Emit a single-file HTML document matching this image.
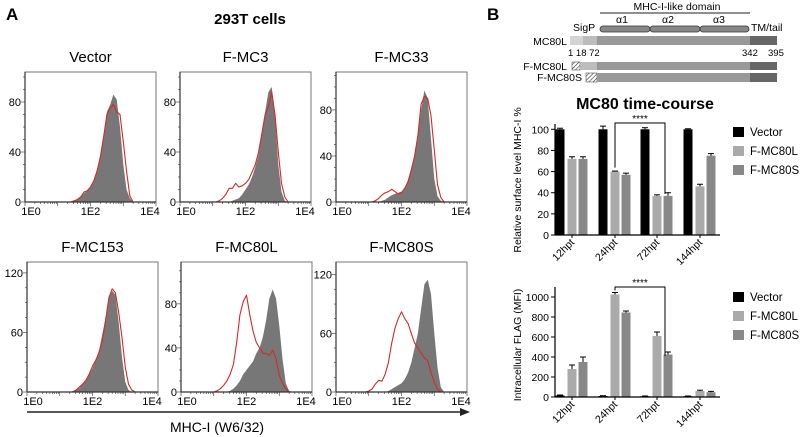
<!DOCTYPE html>
<html><head><meta charset="utf-8"><style>
html,body{margin:0;padding:0;background:#fff;}
svg{display:block;font-family:"Liberation Sans",Arial,sans-serif;}
</style></head><body>
<svg id="fig" width="800" height="437" viewBox="0 0 800 437" xmlns="http://www.w3.org/2000/svg">
<text x="6" y="20" font-size="17" font-weight="bold">A</text>
<text x="250" y="24" font-size="15" font-weight="bold" text-anchor="middle">293T cells</text>
<line x1="27" y1="412" x2="462" y2="412" stroke="#222" stroke-width="1.5"/>
<polygon points="470,412 460,408 460,416" fill="#222"/>
<text x="217" y="432" font-size="14" text-anchor="middle">MHC-I (W6/32)</text>
<text x="487" y="20" font-size="17" font-weight="bold">B</text>
<g id="diagram">
<text x="677" y="10" font-size="10.5" text-anchor="middle">MHC-I-like domain</text>
<line x1="600" y1="13" x2="750" y2="13" stroke="#222" stroke-width="1"/>
<text x="622" y="23" font-size="10.5" text-anchor="middle">α1</text>
<text x="668" y="23" font-size="10.5" text-anchor="middle">α2</text>
<text x="719" y="23" font-size="10.5" text-anchor="middle">α3</text>
<rect x="600" y="26" width="50" height="6" rx="3" fill="#888" stroke="#333" stroke-width="0.8"/>
<rect x="650" y="26" width="50" height="6" rx="3" fill="#888" stroke="#333" stroke-width="0.8"/>
<rect x="700" y="26" width="49" height="6" rx="3" fill="#888" stroke="#333" stroke-width="0.8"/>
<text x="573" y="31" font-size="10.5">SigP</text>
<text x="751" y="31" font-size="10.5">TM/tail</text>
<defs><pattern id="hatch" width="3" height="3" patternUnits="userSpaceOnUse" patternTransform="rotate(45)"><rect width="3" height="3" fill="#fff"/><line x1="0" y1="0" x2="0" y2="3" stroke="#333" stroke-width="1.2"/></pattern></defs>
<text x="567" y="45" font-size="10.5" text-anchor="end">MC80L</text>
<rect x="570" y="36" width="13" height="9" fill="#d4d4d4"/>
<rect x="583" y="36" width="14" height="9" fill="#bcbcbc"/>
<rect x="597" y="36" width="153" height="9" fill="#999"/>
<rect x="750" y="36" width="27" height="9" fill="#666"/>
<text x="568" y="56" font-size="9.5">1  18  72</text>
<text x="742" y="56" font-size="9.5">342</text>
<text x="768" y="56" font-size="9.5">395</text>
<text x="567" y="70" font-size="10.5" text-anchor="end">F-MC80L</text>
<rect x="572" y="62" width="8" height="8" fill="url(#hatch)" stroke="#333" stroke-width="0.5"/>
<rect x="580" y="62" width="17" height="8" fill="#bcbcbc"/>
<rect x="597" y="62" width="153" height="8" fill="#999"/>
<rect x="750" y="62" width="27" height="8" fill="#666"/>
<text x="582" y="81" font-size="10.5" text-anchor="end">F-MC80S</text>
<rect x="586" y="73" width="11" height="9" fill="url(#hatch)" stroke="#333" stroke-width="0.5"/>
<rect x="597" y="73" width="153" height="9" fill="#999"/>
<rect x="750" y="73" width="27" height="9" fill="#666"/>
</g>
<text x="645" y="109" font-size="16" font-weight="bold" text-anchor="middle">MC80 time-course</text>
</svg>
<script>
// ---- Histogram data: counts at log10 bins starting 0.8, step 0.1 (31 bins) ----
const histBins = [0.8,0.9,1.0,1.1,1.2,1.3,1.4,1.5,1.6,1.7,1.8,1.9,2.0,2.1,2.2,2.3,2.4,2.5,2.6,2.7,2.8,2.9,3.0,3.1,3.2,3.3,3.4,3.5,3.6,3.7,3.8];
const panelTitles = ["Vector","F-MC3","F-MC33","F-MC153","F-MC80L","F-MC80S"];
const vectorGray = [0,0,0,0,0,0,0,1,2,4,7,9,12,17,24,35,52,72,78,86,82,60,30,10,3,0,0,0,0,0,0];
const vectorRed  = [0,0,0,0,0,0,0,1,2,4,8,9,12,17,25,36,52,70,75,78,72,70,48,25,5,0,0,0,0,0,0];
const mc3Gray  = [0,0,0,0,0,0,0,0,1,2,3,6,10,14,20,28,38,55,72,88,92,70,30,8,1,0,0,0,0,0,0];
const mc3Red   = [0,0,0,0,1,3,6,11,11,15,12,13,15,18,24,30,40,55,70,76,88,70,40,15,4,0,0,0,0,0,0];
const mc33Gray = [0,0,0,0,0,0,1,2,4,6,7,8,9,12,18,28,40,58,80,97,90,55,20,5,1,0,0,0,0,0,0];
const mc33Red  = [0,0,0,0,1,3,6,8,9,11,9,7,8,12,18,28,40,58,85,92,90,75,45,15,4,0,0,0,0,0,0];
const mc153Gray= [0,0,0,0,0,0,1,2,4,8,12,18,24,32,42,58,75,95,102,98,70,35,10,2,0,0,0,0,0,0,0];
const mc153Red = [0,0,0,0,0,0,0,2,5,8,12,18,26,32,40,52,72,95,104,100,80,55,25,8,2,0,0,0,0,0,0];
const mc80lGray= [0,0,0,0,0,0,0,1,3,6,10,16,20,24,28,35,40,50,65,85,93,85,60,30,8,1,0,0,0,0,0];
const mc80lRed = [0,0,0,1,3,6,10,16,25,45,70,82,88,70,55,45,40,35,35,33,38,30,15,8,3,0,0,0,0,0,0];
const mc80sGray= [0,0,0,0,0,0,0,0,1,3,5,7,9,13,20,30,45,60,85,110,115,100,60,25,5,0,0,0,0,0,0];
const mc80sRed = [0,0,1,3,8,12,11,18,30,50,65,75,82,75,70,60,50,45,40,35,32,20,10,3,0,0,0,0,0,0,0];
const grayHists = [vectorGray,mc3Gray,mc33Gray,mc153Gray,mc80lGray,mc80sGray];
const redHists  = [vectorRed,mc3Red,mc33Red,mc153Red,mc80lRed,mc80sRed];
const panelYMax = [104,104,113,131,118,133];
const panelYTicks = [[0,40,80],[0,40,80],[0,40,80],[0,60,120],[0,40,80],[0,60,120]];
const xTickLabels = ["1E0","1E2","1E4"];
const xTickLogs = [0,2,4];

// ---- Bar chart data ----
const timepoints = ["12hpt","24hpt","72hpt","144hpt"];
const seriesNames = ["Vector","F-MC80L","F-MC80S"];
const surfaceVector = [100,100,100,100];
const surfaceL = [72,60,37,46];
const surfaceS = [72,57,37,75];
const surfaceErrV = [1,3,1.5,0.5];
const surfaceErrL = [2,0.5,1,2];
const surfaceErrS = [2,1.5,3,2];
const surfaceTicks = [0,20,40,60,80,100];
const flagVector = [15,10,8,8];
const flagL = [280,1025,610,60];
const flagS = [350,845,425,48];
const flagErrV = [5,3,2,2];
const flagErrL = [40,20,40,8];
const flagErrS = [50,15,25,8];
const flagTicks = [0,200,400,600,800,1000];

const NS="http://www.w3.org/2000/svg";
const svg=document.getElementById('fig');
function mk(tag,attrs,parent){const e=document.createElementNS(NS,tag);for(const k in attrs)e.setAttribute(k,attrs[k]);(parent||svg).appendChild(e);return e;}
function txt(x,y,s,size,anchor,parent){const t=mk('text',{x:x,y:y,'font-size':size,'text-anchor':anchor||'start'},parent);t.textContent=s;return t;}

const boxes=[[25,72],[180,72],[336,72],[27,262],[181,262],[336,262]];
const BW=131,BH=130;
for(let p=0;p<6;p++){
  const [x0,y0]=boxes[p];
  const g=mk('g',{});
  
  
  const xs=v=>x0+v/4*BW;
  const ys=v=>y0+BH-v/panelYMax[p]*BH;
  const tt=txt(x0+BW/2,y0-10,panelTitles[p],15,'middle',g);
  
  
  mk('rect',{x:x0,y:y0,width:BW,height:BH,fill:'none',stroke:'#777','stroke-width':1},g);
  let d='M'+xs(histBins[0])+','+ys(0);
  histBins.forEach((b,i)=>{d+=' L'+xs(b).toFixed(1)+','+ys(grayHists[p][i]).toFixed(1);});
  d+=' L'+xs(histBins[histBins.length-1])+','+ys(0)+'Z';
  const gp=mk('path',{d:d,fill:'#777',stroke:'none'},g);
  
  
  let r='';
  histBins.forEach((b,i)=>{r+=(i?' L':'M')+xs(b).toFixed(1)+','+ys(redHists[p][i]).toFixed(1);});
  const rp=mk('path',{d:r,fill:'none',stroke:'#d42a2a','stroke-width':1.1,'stroke-linejoin':'round'},g);
  
  
  mk('line',{x1:x0,y1:y0+BH,x2:x0+BW,y2:y0+BH,stroke:'#333','stroke-width':1.2},g);
  mk('line',{x1:x0,y1:y0,x2:x0,y2:y0+BH,stroke:'#333','stroke-width':1.2},g);
  for(let dec=0;dec<4;dec++){for(let m=1;m<10;m++){const v=dec+Math.log10(m);mk('line',{x1:xs(v),y1:y0+BH,x2:xs(v),y2:y0+BH+(m==1?4:2),stroke:'#333','stroke-width':0.6},g);}}
  mk('line',{x1:xs(4),y1:y0+BH,x2:xs(4),y2:y0+BH+4,stroke:'#333','stroke-width':0.6},g);
  xTickLogs.forEach((v,i)=>{const l=txt(xs(v)+(i==0?6:i==2?-6:0),y0+BH+13,xTickLabels[i],11,'middle',g);});
  const ticks=panelYTicks[p];const step=ticks[1]/4;
  for(let v=0;v<=panelYMax[p];v+=step){const major=(v%ticks[1]===0);mk('line',{x1:x0,y1:ys(v),x2:x0-(major?4:2),y2:ys(v),stroke:'#333','stroke-width':0.6},g);}
  ticks.forEach(v=>{const l=txt(x0-4,ys(v)+4,String(v),11,'end',g);});
}

function barChart(cfg){
  const g=mk('g',{});
  
  
  const ys=v=>cfg.y0-(v/cfg.max)*(cfg.y0-cfg.yTop);
  const centers=[572,615,657,700];
  const offs=[-12,0,11];
  const cols=['#000','#aaa','#888'];
  const vals=[cfg.v,cfg.l,cfg.s],errs=[cfg.ev,cfg.el,cfg.es];
  timepoints.forEach((tp,i)=>{
    for(let s=0;s<3;s++){
      const cx=centers[i]+offs[s];
      const b=mk('rect',{x:cx-4.5,y:ys(vals[s][i]),width:9,height:cfg.y0-ys(vals[s][i]),fill:cols[s]},g);
      
      
      const top=ys(vals[s][i]+errs[s][i]);
      mk('line',{x1:cx,y1:ys(vals[s][i]),x2:cx,y2:top,stroke:'#000','stroke-width':1},g);
      mk('line',{x1:cx-3,y1:top,x2:cx+3,y2:top,stroke:'#000','stroke-width':1},g);
    }
    const lb=txt(0,0,tp,10.5,'end',g);
    lb.setAttribute('transform','translate('+(centers[i]+3)+','+(cfg.y0+8)+') rotate(-45)');
    
    
    mk('line',{x1:centers[i],y1:cfg.y0,x2:centers[i],y2:cfg.y0+3,stroke:'#000'},g);
  });
  mk('line',{x1:555,y1:cfg.y0,x2:720,y2:cfg.y0,stroke:'#000','stroke-width':1.2},g);
  mk('line',{x1:555,y1:cfg.yTop,x2:555,y2:cfg.y0,stroke:'#000','stroke-width':1.2},g);
  cfg.ticks.forEach(v=>{mk('line',{x1:551,y1:ys(v),x2:555,y2:ys(v),stroke:'#000'},g);const l=txt(549,ys(v)+4,String(v),10.5,'end',g);});
  const yl=txt(0,0,cfg.ylabel,cfg.ylSize,'middle',g);
  yl.setAttribute('transform','translate(521,'+cfg.ylCenter+') rotate(-90)');
  
  
  const bx1=centers[1]+offs[1],bx2=centers[2]+offs[2]-3;
  const br=mk('path',{d:'M'+bx1+','+(ys(cfg.l[1])-4)+' L'+bx1+','+cfg.bracketY+' L'+bx2+','+cfg.bracketY+' L'+bx2+','+cfg.bracketEnd,fill:'none',stroke:'#000','stroke-width':1},g);
  
  
  const st=txt((bx1+bx2)/2,cfg.bracketY-1,'****',10,'middle',g);
  
  
  seriesNames.forEach((n,s)=>{
    const ly=cfg.legendY+s*19;
    const sw=mk('rect',{x:733,y:ly-5,width:11,height:10,fill:cols[s]},g);
    
    
    const lt=txt(750,ly+4,n,11.5,'start',g);
    
    
  });
}
barChart({name:'surface-mhc-chart',y0:235,yTop:124,max:105,v:surfaceVector,l:surfaceL,s:surfaceS,ev:surfaceErrV,el:surfaceErrL,es:surfaceErrS,ticks:surfaceTicks,ylabel:'Relative surface level MHC-I %',ylSize:10.5,ylCenter:180,bracketY:123,bracketEnd:194,legendY:132});
barChart({name:'intracellular-flag-chart',y0:397,yTop:287,max:1100,v:flagVector,l:flagL,s:flagS,ev:flagErrV,el:flagErrL,es:flagErrS,ticks:flagTicks,ylabel:'Intracellular FLAG (MFI)',ylSize:10.5,ylCenter:345,bracketY:287,bracketEnd:356,legendY:297});
</script>
</body></html>
